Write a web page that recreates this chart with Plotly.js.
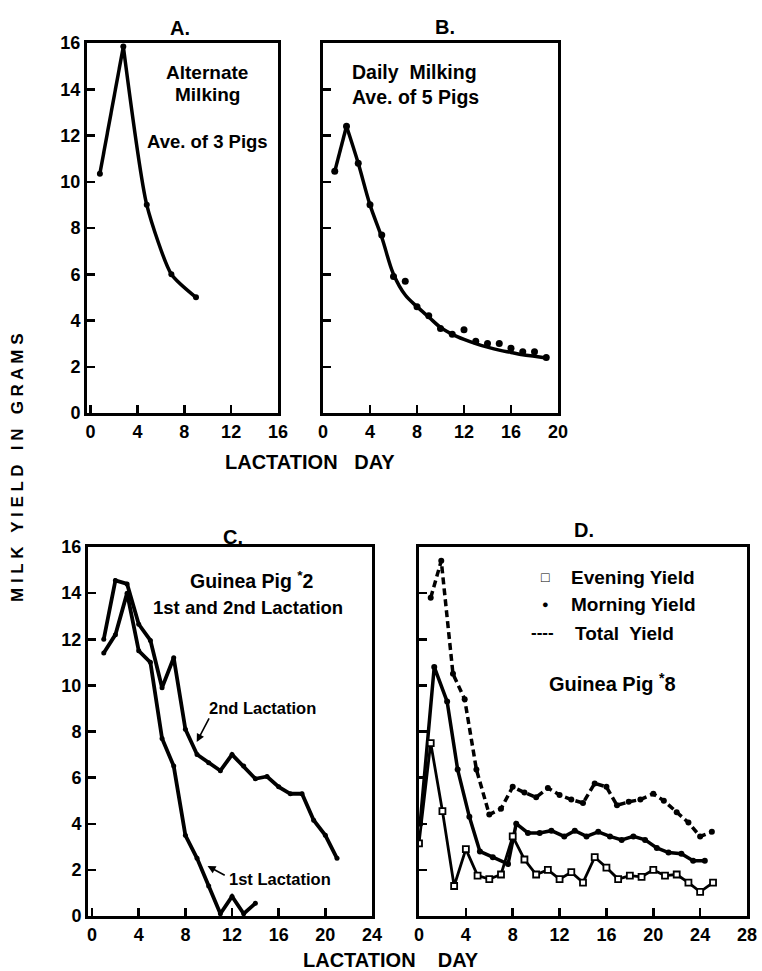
<!DOCTYPE html>
<html>
<head>
<meta charset="utf-8">
<script src="https://cdn.plot.ly/plotly-3.0.1.min.js"></script>
<style>html,body{margin:0;padding:0;background:#fff;}#chart{width:762px;height:971px;}</style>
</head>
<body>
<div id="chart"></div>
<script>
// ---- Panel A: alternate milking, average of 3 pigs
const aDays = [0.8, 2.8, 4.8, 6.9, 9.0];
const aYield = [10.35, 15.85, 9.0, 6.0, 5.0];

// ---- Panel B: daily milking, average of 5 pigs (observed points and drawn curve)
const bDays = [1, 2, 3, 4, 5, 6, 7, 8, 9, 10, 11, 12, 13, 14, 15, 16, 17, 18, 19];
const bYield = [10.45, 12.4, 10.8, 9.0, 7.7, 5.9, 5.7, 4.6, 4.2, 3.65, 3.4, 3.6, 3.1, 3.0, 3.0, 2.8, 2.65, 2.65, 2.4];
const bCurveRiseDays = [1, 2];
const bCurveRise = [10.45, 12.4];
const bCurveDays = [2, 3, 4, 5, 6, 7, 8, 9, 10, 11, 12, 13, 14, 15, 16, 17, 18, 19];
const bCurve = [12.4, 10.8, 9.0, 7.6, 6.0, 5.1, 4.6, 4.15, 3.7, 3.4, 3.18, 3.0, 2.85, 2.72, 2.62, 2.52, 2.45, 2.38];

// ---- Panel C: guinea pig #2, 1st and 2nd lactation
const cDays1 = [1, 2, 3, 4, 5, 6, 7, 8, 9, 10, 11, 12, 13, 14];
const cLact1 = [11.4, 12.2, 14.0, 11.5, 11.0, 7.7, 6.5, 3.5, 2.5, 1.3, 0.1, 0.85, 0.1, 0.55];
const cDays2 = [1, 2, 3, 4, 5, 6, 7, 8, 9, 10, 11, 12, 13, 14, 15, 16, 17, 18, 19, 20, 21];
const cLact2 = [12.0, 14.55, 14.4, 12.65, 11.95, 9.9, 11.2, 8.1, 7.0, 6.65, 6.3, 7.0, 6.5, 5.95, 6.05, 5.6, 5.3, 5.3, 4.15, 3.5, 2.5];

// ---- Panel D: guinea pig #8, evening / morning / total yield
const dEveDays = [0, 1, 2, 3, 4, 5, 6, 7, 8, 9, 10, 11, 12, 13, 14, 15, 16, 17, 18, 19, 20, 21, 22, 23, 24, 25.1];
const dEvening = [3.15, 7.5, 4.55, 1.3, 2.9, 1.75, 1.6, 1.8, 3.45, 2.45, 1.8, 2.0, 1.6, 1.9, 1.45, 2.55, 2.1, 1.6, 1.75, 1.7, 2.0, 1.75, 1.8, 1.45, 1.05, 1.45];
const dMornDays = [0.1, 1.3, 2.4, 3.3, 4.3, 5.2, 6.3, 7.6, 8.3, 9.3, 10.3, 11.3, 12.4, 13.3, 14.3, 15.3, 16.3, 17.3, 18.3, 19.3, 20.3, 21.3, 22.4, 23.4, 24.4];
const dMorning = [4.0, 10.8, 9.3, 6.35, 4.3, 2.8, 2.55, 2.25, 4.0, 3.6, 3.6, 3.7, 3.45, 3.7, 3.45, 3.65, 3.45, 3.3, 3.45, 3.3, 2.95, 2.75, 2.7, 2.4, 2.4];
const dTotDays = [1, 1.9, 2.9, 3.9, 4.9, 6, 7, 8, 9, 10, 11, 12, 13, 14, 15, 16, 16.9, 17.9, 18.9, 20, 20.9, 22, 23, 24, 25];
const dTotal = [13.8, 15.4, 10.5, 9.4, 6.35, 4.4, 4.65, 5.6, 5.35, 5.15, 5.55, 5.25, 5.05, 4.9, 5.75, 5.6, 4.8, 4.95, 5.05, 5.3, 5.0, 4.5, 4.05, 3.45, 3.65];

// ---- tick labels
const yTicks = [0, 2, 4, 6, 8, 10, 12, 14, 16];
const aXTicks = [0, 4, 8, 12, 16];
const bXTicks = [0, 4, 8, 12, 16, 20];
const cXTicks = [0, 4, 8, 12, 16, 20, 24];
const dXTicks = [0, 4, 8, 12, 16, 20, 24, 28];

const FONT = 'Liberation Sans, Arial, sans-serif';
const W = 762, H = 971;
const px = x => x / W;
const py = y => 1 - y / H;

const black = '#000';
const traces = [
  {x: aDays.slice(0, 2), y: aYield.slice(0, 2), xaxis: 'x', yaxis: 'y', mode: 'lines', line: {color: black, width: 3.5}},
  {x: aDays.slice(1), y: aYield.slice(1), xaxis: 'x', yaxis: 'y', mode: 'lines', line: {color: black, width: 3.5, shape: 'spline', smoothing: 0.6}},
  {x: aDays, y: aYield, xaxis: 'x', yaxis: 'y', mode: 'markers', marker: {color: black, size: 6}},

  {x: bCurveRiseDays, y: bCurveRise, xaxis: 'x2', yaxis: 'y2', mode: 'lines', line: {color: black, width: 3.5}},
  {x: bCurveDays, y: bCurve, xaxis: 'x2', yaxis: 'y2', mode: 'lines', line: {color: black, width: 3.5, shape: 'spline', smoothing: 1}},
  {x: bDays, y: bYield, xaxis: 'x2', yaxis: 'y2', mode: 'markers', marker: {color: black, size: 7}},

  {x: cDays1, y: cLact1, xaxis: 'x3', yaxis: 'y3', mode: 'lines+markers', line: {color: black, width: 3.8}, marker: {color: black, size: 5}},
  {x: cDays2, y: cLact2, xaxis: 'x3', yaxis: 'y3', mode: 'lines+markers', line: {color: black, width: 3.8}, marker: {color: black, size: 5}},

  {x: dTotDays, y: dTotal, xaxis: 'x4', yaxis: 'y4', mode: 'lines+markers', line: {color: black, width: 3.5, dash: '7px,4px'}, marker: {color: black, size: 6}},
  {x: dMornDays, y: dMorning, xaxis: 'x4', yaxis: 'y4', mode: 'lines+markers', line: {color: black, width: 3.5}, marker: {color: black, size: 6}},
  {x: dEveDays, y: dEvening, xaxis: 'x4', yaxis: 'y4', mode: 'lines+markers', line: {color: black, width: 2.8}, marker: {color: '#fff', size: 6, symbol: 'square', line: {color: black, width: 1.8}}}
];

const tickfont = {family: FONT, size: 18, weight: 'bold', color: black};
function ax(extra) {
  return Object.assign({
    showline: true, linewidth: 3, linecolor: black, mirror: true,
    ticks: 'inside', ticklen: 8, tickwidth: 2.5, tickcolor: black,
    showgrid: false, zeroline: false, tickfont: tickfont, fixedrange: true
  }, extra);
}

const yDomTop = [py(413), py(43)];
const yDomBot = [py(916), py(547)];

const layout = {
  width: W, height: H,
  margin: {l: 0, r: 0, t: 0, b: 0},
  paper_bgcolor: '#fff', plot_bgcolor: '#fff',
  showlegend: false,
  font: {family: FONT, color: black},
  xaxis: ax({domain: [px(87), px(278)], range: [-0.3, 16], tickvals: aXTicks, anchor: 'y'}),
  yaxis: ax({domain: yDomTop, range: [0, 16], tickvals: yTicks, anchor: 'x'}),
  xaxis2: ax({domain: [px(323), px(558)], range: [0, 20], tickvals: bXTicks, anchor: 'y2'}),
  yaxis2: ax({domain: yDomTop, range: [0, 16], tickvals: yTicks, showticklabels: false, anchor: 'x2'}),
  xaxis3: ax({domain: [px(88), px(372)], range: [-0.35, 24], tickvals: cXTicks, anchor: 'y3'}),
  yaxis3: ax({domain: yDomBot, range: [0, 16], tickvals: yTicks, anchor: 'x3'}),
  xaxis4: ax({domain: [px(419), px(747)], range: [0, 28], tickvals: dXTicks, anchor: 'y4'}),
  yaxis4: ax({domain: yDomBot, range: [0, 16], tickvals: yTicks, showticklabels: false, anchor: 'x4'}),
  annotations: []
};

function txt(text, x, y, size, opts) {
  return Object.assign({
    text: text, x: px(x), y: py(y), xref: 'paper', yref: 'paper',
    showarrow: false, xanchor: 'center', yanchor: 'middle',
    font: {family: FONT, size: size, weight: 'bold', color: black}
  }, opts || {});
}

layout.annotations.push(
  txt('A.', 180, 28, 20),
  txt('B.', 445, 27, 20),
  txt('C.', 233, 537, 20),
  txt('D.', 584, 530, 20),
  txt('Alternate', 207, 73, 19),
  txt('Milking', 207, 95, 19),
  txt('Ave. of 3 Pigs', 207, 141, 18.5),
  txt('Daily  Milking', 350, 72, 19.5, {xanchor: 'left'}),
  txt('Ave. of 5 Pigs', 350, 97, 19.5, {xanchor: 'left'}),
  txt('Guinea Pig <sup>*</sup>2', 252, 580, 19.5),
  txt('1st and 2nd Lactation', 248, 607, 18.5),
  txt('2nd Lactation', 262, 708, 16.5),
  txt('1st Lactation', 280, 879, 16.5),
  txt('□', 545, 577, 14),
  txt('●', 545, 604, 11),
  txt('----', 542, 632, 17),
  txt('Evening Yield', 569, 577, 19, {xanchor: 'left'}),
  txt('Morning Yield', 569, 604, 19, {xanchor: 'left'}),
  txt('Total  Yield', 573, 633, 19, {xanchor: 'left'}),
  txt('Guinea Pig <sup>*</sup>8', 612, 682, 20),
  txt('M I L K   Y I E L D   I N   G R A M S', 18, 468, 17, {textangle: -90}),
  txt('LACTATION   DAY', 310, 462, 20),
  txt('LACTATION    DAY', 391, 960, 20)
);

// arrows pointing to the lactation curves
layout.annotations.push(
  {x: 8.97, y: 7.55, xref: 'x3', yref: 'y3', ax: 10.1, ay: 8.63, axref: 'x3', ayref: 'y3',
   text: '', showarrow: true, arrowhead: 2, arrowsize: 1, arrowwidth: 1.6, arrowcolor: black},
  {x: 9.9, y: 2.17, xref: 'x3', yref: 'y3', ax: 11.5, ay: 1.73, axref: 'x3', ayref: 'y3',
   text: '', showarrow: true, arrowhead: 2, arrowsize: 1, arrowwidth: 1.6, arrowcolor: black}
);

Plotly.newPlot('chart', traces, layout, {staticPlot: true, displayModeBar: false});
</script>
</body>
</html>
